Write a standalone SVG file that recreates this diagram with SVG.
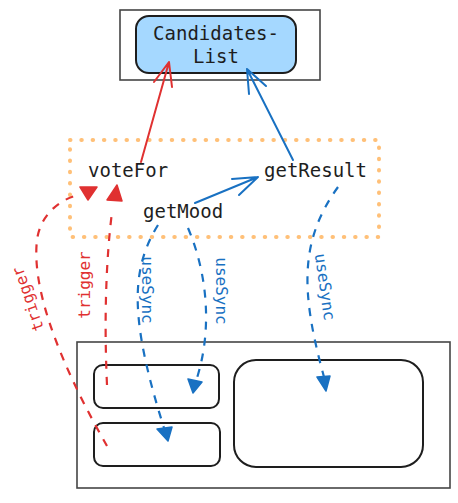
<svg xmlns="http://www.w3.org/2000/svg" width="458" height="503" viewBox="0 0 458 503">
<style>
text{font-family:"DejaVu Sans Mono","Liberation Mono",monospace;}
.lbl{font-size:19px;fill:#1e1e1e;}
.blu{font-size:16px;fill:#1971c2;}
.red{font-size:16px;fill:#e03131;}
.outer{fill:none;stroke:#454545;stroke-width:1.6;}
.box{fill:#fff;stroke:#1e1e1e;stroke-width:2;}
.rs{fill:none;stroke:#e03131;stroke-width:2;stroke-linecap:round;stroke-linejoin:round;}
.bs{fill:none;stroke:#1971c2;stroke-width:2;stroke-linecap:round;stroke-linejoin:round;}
.rd{fill:none;stroke:#e03131;stroke-width:2.2;stroke-dasharray:8 8;}
.bd{fill:none;stroke:#1971c2;stroke-width:2.2;stroke-dasharray:8 8;}
.rf{fill:#e03131;stroke:#e03131;stroke-width:1.5;stroke-linejoin:round;}
.bf{fill:#1971c2;stroke:#1971c2;stroke-width:1.5;stroke-linejoin:round;}
</style>
<rect width="458" height="503" fill="#fff"/>
<g id="candidates-frame">
<rect class="outer" x="120" y="10" width="200" height="70"/>
</g>
<g id="candidates-list">
<rect x="136" y="16" width="160" height="57" rx="13" fill="#a5d8ff" stroke="#1e1e1e" stroke-width="2"/>
<text class="lbl" x="216" y="40" text-anchor="middle">Candidates-</text>
<text class="lbl" x="216" y="63" text-anchor="middle">List</text>
</g>
<g id="functions-group">
<rect x="70" y="140" width="309" height="97" fill="none" stroke="#ffc078" stroke-width="4" stroke-linecap="round" stroke-dasharray="0.5 10.8"/>
</g>
<g id="voteFor"><text class="lbl" x="88" y="177">voteFor</text></g>
<g id="getResult"><text class="lbl" x="264" y="177">getResult</text></g>
<g id="getMood"><text class="lbl" x="143" y="218">getMood</text></g>
<g id="components">
<rect class="outer" x="77" y="342" width="373" height="146"/>
<rect id="comp-a" class="box" x="94" y="365" width="125" height="43" rx="9"/>
<rect id="comp-b" class="box" x="94" y="423" width="126" height="43" rx="9"/>
<rect id="comp-c" class="box" x="234" y="360" width="189" height="107" rx="22"/>
</g>
<g id="connectors">
<path class="rs" d="M141,162 L169,62 M154,82 L169,62 L172,87"/>
<path class="bs" d="M293,160 L247,69 M249,94 L247,69 L266,86"/>
<path class="bs" d="M195,203 L258,177 M232,179 L258,177 L239,195"/>
<path class="bd" d="M158,225 C130,270 130,320 164,428"/>
<path class="bf" d="M157,429 L172,427 L168,441 Z"/>
<path class="bd" d="M188,228 C208,275 212,330 197,378"/>
<path class="bf" d="M188,379 L202,382 L193,393 Z"/>
<path class="bd" d="M338,187 C300,240 300,290 324,377"/>
<path class="bf" d="M317,377 L330,376 L326,391 Z"/>
<path class="rd" d="M107,446 C75,390 30,300 37,240 C40,215 60,200 75,196"/>
<path class="rf" d="M80,187 L97,187 L88,200 Z"/>
<path class="rd" d="M107,385 C104,320 106,260 112,212"/>
<path class="rf" d="M107,200 L122,201 L117,185 Z"/>
<text class="blu" x="147" y="290" text-anchor="middle" dominant-baseline="central" transform="rotate(90 147 290)">useSync</text>
<text class="blu" x="221" y="291" text-anchor="middle" dominant-baseline="central" transform="rotate(90 221 291)">useSync</text>
<text class="blu" x="325" y="287" text-anchor="middle" dominant-baseline="central" transform="rotate(82 325 287)">useSync</text>
<text class="red" x="84" y="285" text-anchor="middle" dominant-baseline="central" transform="rotate(-90 84 285)">trigger</text>
<text class="red" x="28" y="299" text-anchor="middle" dominant-baseline="central" transform="rotate(-109 28 299)">trigger</text>
</g>
</svg>
